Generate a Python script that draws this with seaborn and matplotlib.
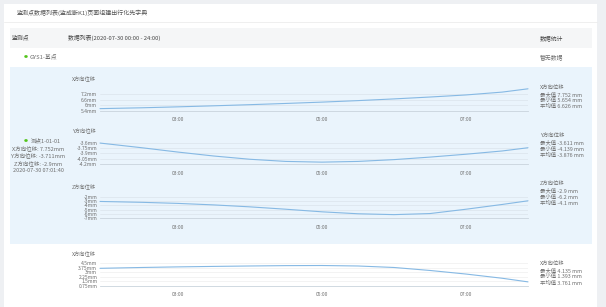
import matplotlib
matplotlib.use("Agg")
import matplotlib.pyplot as plt
import seaborn as sns
import pandas as pd
from matplotlib.patches import Rectangle

sns.set_theme(style="white")
plt.rcParams['font.family'] = ['Noto Sans CJK SC', 'DejaVu Sans']

W, H = 606, 307

# ---------------- data ----------------
title = "监测点数据列表(监成断K1)页面组建出行化先字典"
col_point = "监测点"
col_list = "数据列表(2020-07-30 00:00 - 24:00)"
col_stat = "数据统计"
base_point = "GYS1-基点"
no_data = "暂无数据"

info_lines = ["测点1-01-01", "X方向位移: 7.752mm", "Y方向位移: -3.711mm",
              "Z方向位移: -2.9mm", "2020-07-30 07:01:40"]

hours = [1.92, 2.5, 3.0, 3.5, 4.0, 4.5, 5.0, 5.5, 6.0, 6.5, 7.0, 7.5, 7.86]
x_ticks = [3, 5, 7]
x_tick_labels = ["03:00", "05:00", "07:00"]

x_disp = [5.65, 5.74, 5.84, 5.95, 6.07, 6.2, 6.34, 6.5, 6.68, 6.88, 7.1, 7.4, 7.75]
y_disp = [-3.61, -3.74, -3.86, -3.97, -4.06, -4.12, -4.14, -4.12, -4.07, -4.0, -3.92, -3.83, -3.74]
z_disp = [-3.1, -3.3, -3.55, -3.9, -4.35, -4.9, -5.5, -5.95, -6.15, -5.9, -4.9, -3.8, -2.95]
x2_disp = [3.66, 3.8, 3.9, 3.98, 4.05, 4.11, 4.13, 4.05, 3.8, 3.3, 2.7, 2.0, 1.39]

yt1 = [5.4, 6.0, 6.6, 7.2]
yl1 = ["5.4mm", "6mm", "6.6mm", "7.2mm"]
yt2 = [-4.2, -4.05, -3.9, -3.75, -3.6]
yl2 = ["-4.2mm", "-4.05mm", "-3.9mm", "-3.75mm", "-3.6mm"]
yt3 = [-7, -6, -5, -4, -3, -2]
yl3 = ["-7mm", "-6mm", "-5mm", "-4mm", "-3mm", "-2mm"]
yt4 = [0.75, 1.5, 2.25, 3.0, 3.75, 4.5]
yl4 = ["0.75mm", "1.5mm", "2.25mm", "3mm", "3.75mm", "4.5mm"]

chart_titles = ["X方向位移", "Y方向位移", "Z方向位移", "X方向位移"]
stats = [
    ["X方向位移", "最大值 7.752 mm", "最小值 5.654 mm", "平均值 6.626 mm"],
    ["Y方向位移", "最大值 -3.611 mm", "最小值 -4.139 mm", "平均值 -3.876 mm"],
    ["Z方向位移", "最大值 -2.9 mm", "最小值 -6.2 mm", "平均值 -4.1 mm"],
    ["X方向位移", "最大值 4.135 mm", "最小值 1.393 mm", "平均值 3.761 mm"],
]

# ---------------- layout helpers ----------------
fig = plt.figure(figsize=(W / 100, H / 100), dpi=100)
fig.patch.set_facecolor("#eef0f3")


def fx(x):
    return x / W


def fy(y):
    return 1 - y / H


def rect(x0, y0, x1, y1, color, z=-5):
    fig.patches.append(Rectangle((fx(x0), fy(y1)), fx(x1) - fx(x0), fy(y0) - fy(y1),
                                 transform=fig.transFigure, facecolor=color,
                                 edgecolor="none", zorder=z))


def txt(x, y, s, size=4.2, color="#6e6e6e", ha="left", **kw):
    fig.text(fx(x), fy(y), s, fontsize=size, color=color, ha=ha, va="center", **kw)


# card
rect(4, 4, 597, 307, "white", z=-10)
# title separator
sep = plt.Line2D([fx(4), fx(597)], [fy(22), fy(22)], color="#ececec", lw=0.6,
                 transform=fig.transFigure, zorder=-4)
fig.add_artist(sep)
txt(17, 12.5, title, size=4.3, color="#555555")
# header row
rect(10, 28, 592, 48, "#f5f6f7")
txt(12, 38, col_point, size=4.2, color="#444444")
txt(68, 38, col_list, size=4.2, color="#444444")
txt(540, 38, col_stat, size=4.2, color="#444444")
# base point row
txt(23.5, 57, "●", size=2.8, color="#52c41a")
txt(30, 57, base_point, size=4.2)
txt(540, 57, no_data, size=4.2)
# blue band
rect(10, 67, 592, 244, "#eaf4fc")

# left info block
txt(23.5, 141, "●", size=2.8, color="#52c41a")
txt(30.5, 141, info_lines[0], size=4.0)
for i, s in enumerate(info_lines[1:]):
    txt(38, 148.3 + i * 7.3, s, size=4.0, ha="center")

charts = [
    (x_disp, yt1, yl1, 94, 111, True, 79),
    (y_disp, yt2, yl2, 142.7, 164.3, True, 131.5),
    (z_disp, yt3, yl3, 196.7, 218.3, True, 187),
    (x2_disp, yt4, yl4, 263.3, 285.7, False, 254),
]
stat_y = [(88.3, 94.3, 100.3, 106.3), (136, 142.5, 149, 155.5),
          (184.3, 190.8, 197.3, 203.8), (264, 270.4, 276.8, 283.2)]

LEFT, RIGHT = 100, 528
line_color = "#86b9e4"

for k, (vals, yt, yl, top, bot, blue, ty) in enumerate(charts):
    ax = fig.add_axes([fx(LEFT), fy(bot), fx(RIGHT) - fx(LEFT), fy(top) - fy(bot)])
    ax.set_facecolor("none")
    ax.set_zorder(2)
    df = pd.DataFrame({"hour": hours, "value": vals})
    sns.lineplot(data=df, x="hour", y="value", ax=ax, color=line_color, lw=0.8)
    for ln in ax.lines:
        ln.set_clip_on(False)
        ln.set_solid_joinstyle("round")
    ax.set_xlim(hours[0], hours[-1])
    ax.set_ylim(yt[0], yt[-1])
    ax.set_yticks(yt)
    ax.set_yticklabels(yl)
    ax.set_xticks(x_ticks)
    ax.set_xticklabels(x_tick_labels)
    gc = "#dbe4ec" if blue else "#eeeeee"
    for v in yt[1:]:
        ax.axhline(v, color=gc, lw=0.5, zorder=0)
    for s in ["top", "right", "left"]:
        ax.spines[s].set_visible(False)
    ax.spines["bottom"].set_color("#c9d3dc")
    ax.spines["bottom"].set_linewidth(0.6)
    ax.tick_params(axis="y", length=0, pad=2, labelsize=3.6, labelcolor="#707070")
    ax.tick_params(axis="x", length=1.5, width=0.4, color="#c9d3dc", pad=3,
                   labelsize=3.6, labelcolor="#707070")
    ax.set_xlabel("")
    ax.set_ylabel("")
    txt(72, ty, chart_titles[k], size=3.8)
    for j, s in enumerate(stats[k]):
        txt(540, stat_y[k][j], s, size=3.9)

fig.savefig("out.png", dpi=100, facecolor=fig.get_facecolor())
